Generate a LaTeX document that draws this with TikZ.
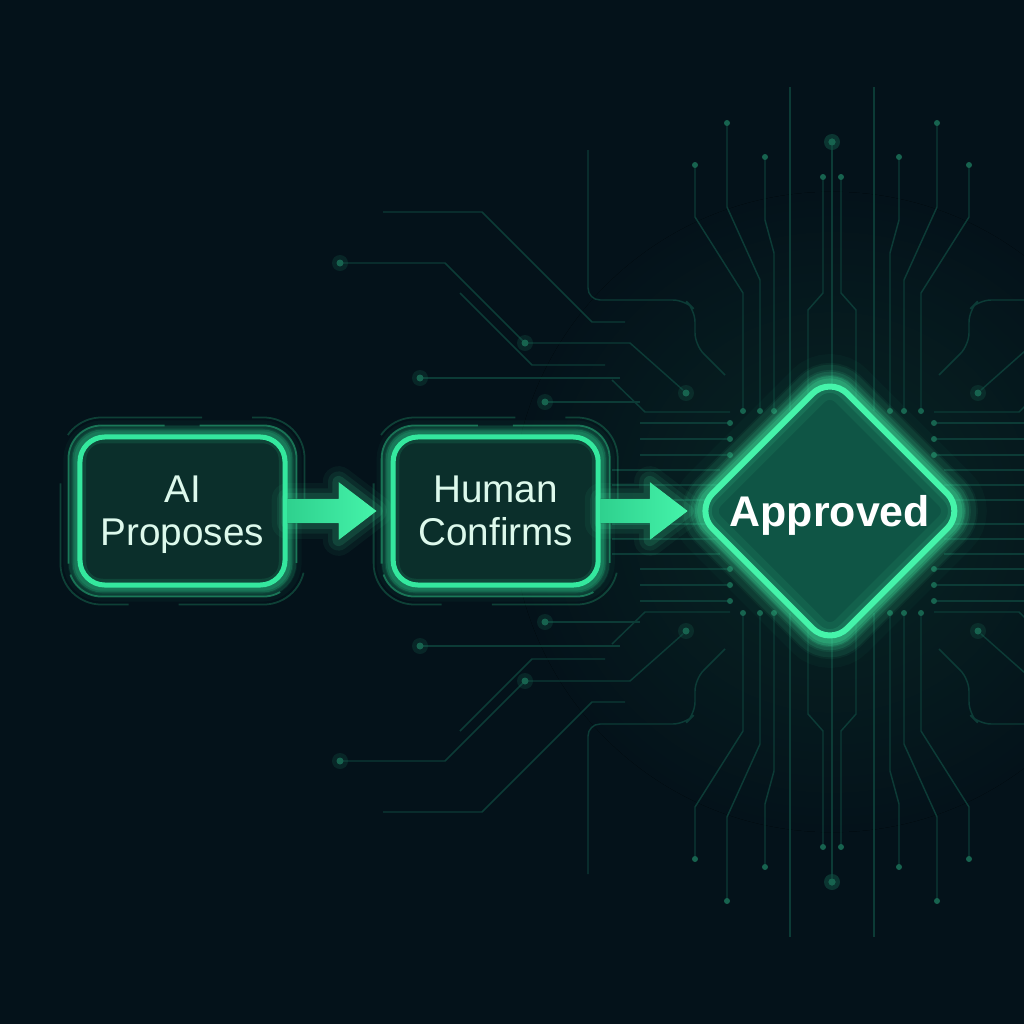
\documentclass[tikz,border=0pt]{standalone}
\usepackage{fontspec}
\setmainfont{Liberation Sans}
\usetikzlibrary{positioning,calc,shapes.geometric,backgrounds}

\definecolor{bgdark}{HTML}{04121A}
\definecolor{bgteal}{HTML}{082624}
\definecolor{mint}{HTML}{34E89E}
\definecolor{mintlite}{HTML}{45F4AA}
\definecolor{boxfill}{HTML}{0B2F2B}
\definecolor{diafill}{HTML}{0F5545}
\definecolor{tracecol}{HTML}{0C3B36}
\definecolor{padcol}{HTML}{17634F}
\definecolor{label}{HTML}{DDF9EC}

\tikzset{
  stepbox/.style={rectangle, rounded corners=2.5mm, minimum width=2.05cm, minimum height=1.48cm,
    draw=mint, line width=0.5mm, fill=boxfill, text=label, align=center, text depth=0pt,
    font=\fontsize{11pt}{12.3pt}\selectfont},
  verdict/.style={diamond, rounded corners=2.5mm, minimum size=2.72cm, inner sep=0pt,
    draw=mintlite, line width=0.6mm, fill=diafill, text=white, text depth=0pt,
    font=\bfseries\fontsize{12.2pt}{14pt}\selectfont},
  trace/.style={draw=tracecol, line width=0.42pt, line join=round},
}

\begin{document}
\begin{tikzpicture}[x=0.01cm,y=-0.01cm]
  \useasboundingbox (0,0) rectangle (1024,1024);

  \node[stepbox] (ai) at (182.5,511) {AI\\Proposes};
  \node[stepbox, right=1.03cm of ai] (human) {Human\\Confirms};
  \node[verdict, right=0.9cm of human] (ok) {Approved};

  \begin{scope}[on background layer]
    \fill[bgdark] (0,0) rectangle (1024,1024);
    \fill[inner color=bgteal, outer color=bgdark] (832,512) circle (3.2cm);
    % circuit traces: one quarter, mirrored round the chip
    \foreach \sx/\sy in {1/1,-1/1,1/-1,-1/-1}{
      \begin{scope}[shift={({832*(1-\sx)},{512*(1-\sy)})}, xscale=\sx, yscale=\sy]
        \draw[trace] (832,400) -- (832,142);
        \fill[padcol] (832,142) circle (0.35mm);
        \fill[padcol, opacity=0.25] (832,142) circle (0.8mm);
        \foreach \xb/\xt/\ya/\yb/\ye in {808/823/310/293/177, 774/765/253/220/157,
            760/727/280/207/123, 743/695/293/217/165}{
          \draw[trace] (\xb,411) -- (\xb,\ya) -- (\xt,\yb) -- (\xt,\ye);
          \fill[padcol] (\xt,\ye) circle (0.3mm);
        }
        \draw[trace] (790,411) -- (790,87);
        \foreach \x in {743,760,774} \fill[padcol] (\x,411) circle (0.3mm);
        \foreach \y in {423,439,455}{
          \draw[trace] (730,\y) -- (640,\y);
          \fill[padcol] (730,\y) circle (0.3mm);
        }
        \foreach \y in {470,485,500} \draw[trace] (720,\y) -- (612,\y);
        \draw[trace] (730,412) -- (645,412) -- (612,380);
        \draw[trace] (340,263) -- (445,263) -- (525,343) -- (630,343) -- (683,390);
        \draw[trace] (383,212) -- (482,212) -- (592,322) -- (625,322);
        \draw[trace] (420,378) -- (620,378);
        \draw[trace] (545,402) -- (640,402);
        \draw[trace] (460,293) -- (532,365) -- (605,365);
        \draw[trace, rounded corners=1.2mm] (588,150) -- (588,300) -- (685,300) -- (695,310) -- (695,345) -- (725,375);
        \foreach \px/\py in {340/263, 686/393, 420/378, 545/402, 525/343}{
          \fill[padcol, opacity=0.25] (\px,\py) circle (0.8mm);
          \fill[padcol] (\px,\py) circle (0.35mm);
        }
      \end{scope}
    }
    % thin frames and glow round the two boxes
    \foreach \n in {ai,human}{
      \draw[mint, opacity=0.4, line width=0.5pt, rounded corners=3.3mm, dash pattern=on 2.2cm off 0.35cm]
        ($(\n.south west)+(-9,9)$) rectangle ($(\n.north east)+(9,-9)$);
      \draw[mint, opacity=0.22, line width=0.5pt, rounded corners=4.1mm, dash pattern=on 1.4cm off 0.5cm, dash phase=0.6cm]
        ($(\n.south west)+(-17,17)$) rectangle ($(\n.north east)+(17,-17)$);
      \foreach \w/\o in {8/0.04,5.5/0.06,3.4/0.09,1.8/0.14}
        \draw[mint, line width=\w pt, opacity=\o, rounded corners=2.5mm] (\n.south west) rectangle (\n.north east);
    }
    \foreach \w/\o in {16/0.03,11/0.05,7/0.08,4.2/0.12,2.2/0.2}
      \draw[mintlite, line width=\w pt, opacity=\o, rounded corners=2.5mm]
        ($(ok.west)!0.5!(ok.north)$) -- (ok.north) -- (ok.east) -- (ok.south) -- (ok.west) -- cycle;
  \end{scope}

  % inner glow
  \foreach \n in {ai,human}
    \foreach \w/\o in {5/0.12,2.8/0.18}
      \draw[mint, line width=\w pt, opacity=\o, rounded corners=2.5mm] (\n.south west) rectangle (\n.north east);
  \foreach \w/\o in {10/0.08,6/0.12,3.5/0.2}
    \draw[mintlite, line width=\w pt, opacity=\o, rounded corners=2.5mm]
      ($(ok.west)!0.5!(ok.north)$) -- (ok.north) -- (ok.east) -- (ok.south) -- (ok.west) -- cycle;

  % block arrows
  \foreach \src/\dst/\gap in {ai/human/1.4mm, human/ok/0.3mm}{
    \foreach \w/\o in {9/0.05,6/0.08,3.5/0.12}
      \draw[mintlite, line width=\w pt, opacity=\o, line join=round]
        let \p1=(\src.east), \p2=(\dst.west) in
        (\x1,\y1+1.2mm) -- (\x2-\gap-3.8mm,\y1+1.2mm) -- (\x2-\gap-3.8mm,\y1+2.9mm) -- (\x2-\gap,\y1)
        -- (\x2-\gap-3.8mm,\y1-2.9mm) -- (\x2-\gap-3.8mm,\y1-1.2mm) -- (\x1,\y1-1.2mm) -- cycle;
    \fill[left color=mint!90!black, right color=mintlite]
      let \p1=(\src.east), \p2=(\dst.west) in
      (\x1,\y1+1.2mm) -- (\x2-\gap-3.8mm,\y1+1.2mm) -- (\x2-\gap-3.8mm,\y1+2.9mm) -- (\x2-\gap,\y1)
      -- (\x2-\gap-3.8mm,\y1-2.9mm) -- (\x2-\gap-3.8mm,\y1-1.2mm) -- (\x1,\y1-1.2mm) -- cycle;
  }
\end{tikzpicture}
\end{document}
